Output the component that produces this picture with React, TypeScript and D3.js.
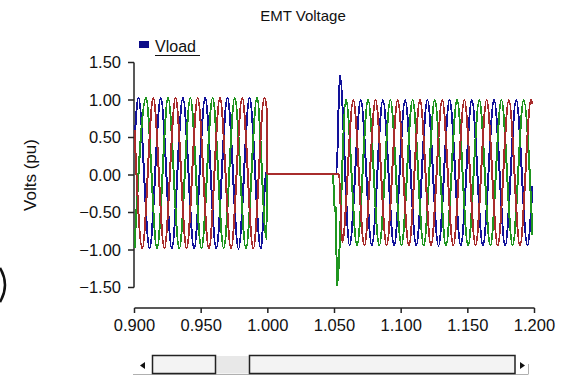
import React from "react";
import * as d3 from "d3";

// ---- data ----
const chartTitle = "EMT Voltage";
const yAxisTitle = "Volts (pu)";
const legendLabel = "Vload";
const xTicks = [0.9, 0.95, 1.0, 1.05, 1.1, 1.15, 1.2];
const yTicks = [1.5, 1.0, 0.5, 0.0, -0.5, -1.0, -1.5];

// [time (s), voltage (pu)] at extremes / breakpoints of each phase
const phaseBlue: [number, number][] = [
  [0.9, 0.45], [0.903, 1.03], [0.9113, -0.98], [0.9197, 1.03], [0.928, -0.98], [0.9363, 1.03],
  [0.9447, -0.98], [0.953, 1.03], [0.9613, -0.98], [0.9697, 1.03], [0.978, -0.98], [0.9863, 1.03],
  [0.9947, -0.98], [0.999, 0.05], [0.9992, 0.02],
  [1.0515, 0.02], [1.054, 1.33], [1.0613, -0.94], [1.0697, 1.0], [1.078, -0.94], [1.0863, 1.0],
  [1.0947, -0.94], [1.103, 1.0], [1.1113, -0.94], [1.1197, 1.0], [1.128, -0.94], [1.1363, 1.0],
  [1.1447, -0.94], [1.153, 1.0], [1.1613, -0.94], [1.1697, 1.0], [1.178, -0.94], [1.1863, 1.0],
  [1.1947, -0.94], [1.1985, -0.15],
];
const phaseGreen: [number, number][] = [
  [0.9, -0.98], [0.9086, 1.03], [0.9169, -0.98], [0.9252, 1.03], [0.9336, -0.98], [0.9419, 1.03],
  [0.9502, -0.98], [0.9586, 1.03], [0.9669, -0.98], [0.9752, 1.03], [0.9836, -0.98], [0.9919, 1.03],
  [0.999, -0.85], [0.9992, 0.02],
  [1.0488, 0.02], [1.0502, -0.49], [1.0511, -0.42], [1.0518, -1.48], [1.0586, 1.0], [1.0669, -0.94],
  [1.0752, 1.0], [1.0836, -0.94], [1.0919, 1.0], [1.1002, -0.94], [1.1086, 1.0], [1.1169, -0.94],
  [1.1252, 1.0], [1.1336, -0.94], [1.1419, 1.0], [1.1502, -0.94], [1.1586, 1.0], [1.1669, -0.94],
  [1.1752, 1.0], [1.1836, -0.94], [1.1919, 1.0], [1.1985, -0.8],
];
const phaseRed: [number, number][] = [
  [0.9, 0.6], [0.9058, -0.98], [0.9141, 1.03], [0.9224, -0.98], [0.9308, 1.03], [0.9391, -0.98],
  [0.9474, 1.03], [0.9558, -0.98], [0.9641, 1.03], [0.9724, -0.98], [0.9808, 1.03], [0.9891, -0.98],
  [0.9974, 1.03], [0.999, 0.92], [0.9992, 0.02],
  [1.0534, 0.02], [1.0558, -0.9], [1.0641, 1.0], [1.0724, -0.94], [1.0808, 1.0], [1.0891, -0.94],
  [1.0974, 1.0], [1.1058, -0.94], [1.1141, 1.0], [1.1224, -0.94], [1.1308, 1.0], [1.1391, -0.94],
  [1.1474, 1.0], [1.1558, -0.94], [1.1641, 1.0], [1.1724, -0.94], [1.1808, 1.0], [1.1891, -0.94],
  [1.1974, 1.0], [1.1985, 0.95],
];
const seriesList = [phaseBlue, phaseGreen, phaseRed];
const seriesColors = ["#12129a", "#1f951f", "#a82c2c"];

const W = 566;
const H = 376;
const FONT = "'Liberation Sans', Arial, sans-serif";

export default function App() {
  const x = d3.scaleLinear().domain([0.9, 1.2]).range([134.5, 534.5]);
  const y = d3.scaleLinear().domain([-1.5, 1.5]).range([287.5, 62.5]);
  const line = d3
    .line<[number, number]>()
    .x((d) => x(d[0]))
    .y((d) => y(d[1]))
    .curve(d3.curveMonotoneX);
  const axisX = 134;
  const axisY = 308;

  return (
    <div style={{ position: "absolute", left: 0, top: 0, width: W, height: H, background: "#fff" }}>
      <svg width={W} height={H} style={{ display: "block" }} fontFamily={FONT}>
        <rect x={0} y={0} width={W} height={H} fill="#fff" />
        {/* title */}
        <text x={303} y={21} textAnchor="middle" fontSize={15} fill="#111">
          {chartTitle}
        </text>
        {/* legend */}
        <rect x={139} y={41} width={10} height={7} fill="#0c0c88" />
        <text x={155} y={52} fontSize={16} fill="#111">
          {legendLabel}
        </text>
        <line x1={155} x2={200} y1={55.5} y2={55.5} stroke="#111" strokeWidth={1} />

        {/* y axis */}
        <line x1={axisX} x2={axisX} y1={y(1.5)} y2={y(-1.5)} stroke="#222" strokeWidth={1.5} />
        {yTicks.map((t) => (
          <g key={"y" + t}>
            <line x1={axisX - 6} x2={axisX} y1={y(t)} y2={y(t)} stroke="#222" strokeWidth={1.5} />
            <text x={121} y={y(t)} dy="0.36em" textAnchor="end" fontSize={16.5} fill="#111">
              {d3.format(".2f")(t)}
            </text>
          </g>
        ))}
        <text
          transform={`translate(36,${y(0)}) rotate(-90)`}
          textAnchor="middle"
          fontSize={17}
          fill="#111"
        >
          {yAxisTitle}
        </text>

        {/* x axis */}
        <line x1={x(0.9)} x2={x(1.2)} y1={axisY} y2={axisY} stroke="#222" strokeWidth={1.5} />
        {xTicks.map((t) => (
          <g key={"x" + t}>
            <line x1={x(t)} x2={x(t)} y1={axisY} y2={axisY + 5} stroke="#222" strokeWidth={1.5} />
            <text x={x(t)} y={331} textAnchor="middle" fontSize={16.5} fill="#111">
              {d3.format(".3f")(t)}
            </text>
          </g>
        ))}

        {/* series */}
        {seriesList.map((s, i) => (
          <path
            key={i}
            d={line(s) || ""}
            fill="none"
            stroke={seriesColors[i]}
            strokeWidth={2}
            shapeRendering="crispEdges"
          />
        ))}

        {/* scrollbar */}
        <line x1={133} x2={528} y1={374.5} y2={374.5} stroke="#b0b0b0" strokeWidth={1} />
        <line x1={528.5} x2={528.5} y1={364} y2={374.5} stroke="#b0b0b0" strokeWidth={1} />
        <path d="M140,365.5 L145,362 L145,369 Z" fill="#111" />
        <path d="M525,365.5 L520,362 L520,369 Z" fill="#111" />
        <rect x={216} y={356} width={33} height={17.5} fill="#e8e8e8" />
        <rect x={152.5} y={355.5} width={63} height={18} fill="#f3f3f3" stroke="#222" strokeWidth={1.5} />
        <rect x={249.5} y={355.5} width={265.5} height={18} fill="#f3f3f3" stroke="#222" strokeWidth={1.5} />

        {/* partial glyph on left edge */}
        <path d="M0,268 Q10,285 0,302" fill="none" stroke="#111" strokeWidth={2.5} />
      </svg>
    </div>
  );
}
